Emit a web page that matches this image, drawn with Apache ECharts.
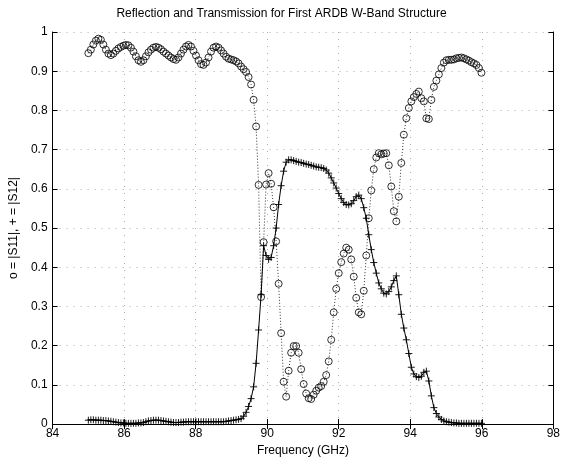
<!DOCTYPE html>
<html>
<head>
<meta charset="utf-8">
<script src="https://cdn.jsdelivr.net/npm/echarts@6/dist/echarts.min.js"></script>
<style>
	html, body { margin: 0; padding: 0; background: #fff; }
	#chart { width: 563px; height: 462px; }
</style>
</head>
<body>
<div id="chart"></div>
<script>
// frequency sweep, GHz
var freq = [
	85.00, 85.07, 85.14, 85.21, 85.28, 85.35, 85.42, 85.49, 85.56, 85.63,
	85.70, 85.77, 85.84, 85.91, 85.98, 86.05, 86.12, 86.19, 86.26, 86.33,
	86.40, 86.47, 86.54, 86.61, 86.68, 86.75, 86.82, 86.89, 86.96, 87.03,
	87.10, 87.17, 87.24, 87.31, 87.38, 87.45, 87.52, 87.59, 87.66, 87.73,
	87.80, 87.87, 87.94, 88.01, 88.08, 88.15, 88.22, 88.29, 88.36, 88.43,
	88.50, 88.57, 88.64, 88.71, 88.78, 88.85, 88.92, 88.99, 89.06, 89.13,
	89.20, 89.27, 89.34, 89.41, 89.48, 89.55, 89.62, 89.69, 89.76, 89.83,
	89.90, 89.97, 90.04, 90.11, 90.18, 90.25, 90.32, 90.39, 90.46, 90.53,
	90.60, 90.67, 90.74, 90.81, 90.88, 90.95, 91.02, 91.09, 91.16, 91.23,
	91.30, 91.37, 91.44, 91.51, 91.58, 91.65, 91.72, 91.79, 91.86, 91.93,
	92.00, 92.07, 92.14, 92.21, 92.28, 92.35, 92.42, 92.49, 92.56, 92.63,
	92.70, 92.77, 92.84, 92.91, 92.98, 93.05, 93.12, 93.19, 93.26, 93.33,
	93.40, 93.47, 93.54, 93.61, 93.68, 93.75, 93.82, 93.89, 93.96, 94.03,
	94.10, 94.17, 94.24, 94.31, 94.38, 94.45, 94.52, 94.59, 94.66, 94.73,
	94.80, 94.87, 94.94, 95.01, 95.08, 95.15, 95.22, 95.29, 95.36, 95.43,
	95.50, 95.57, 95.64, 95.71, 95.78, 95.85, 95.92, 95.99
];

// |S11|  (o)
var s11 = [
	0.946, 0.955, 0.968, 0.978, 0.983, 0.980, 0.968, 0.955, 0.945, 0.941,
	0.945, 0.952, 0.958, 0.962, 0.965, 0.967, 0.966, 0.960, 0.950, 0.938,
	0.928, 0.924, 0.928, 0.938, 0.948, 0.955, 0.960, 0.962, 0.960, 0.956,
	0.950, 0.945, 0.940, 0.935, 0.931, 0.929, 0.935, 0.945, 0.955, 0.963,
	0.967, 0.963, 0.952, 0.940, 0.928, 0.918, 0.916, 0.922, 0.935, 0.950,
	0.960, 0.963, 0.960, 0.953, 0.945, 0.937, 0.932, 0.930, 0.928, 0.925,
	0.920, 0.912, 0.905, 0.898, 0.885, 0.866, 0.827, 0.759, 0.610, 0.324,
	0.464, 0.611, 0.640, 0.613, 0.553, 0.466, 0.358, 0.232, 0.108, 0.070,
	0.136, 0.182, 0.199, 0.199, 0.182, 0.140, 0.102, 0.078, 0.066, 0.064,
	0.075, 0.085, 0.093, 0.097, 0.108, 0.125, 0.160, 0.215, 0.285, 0.345,
	0.385, 0.413, 0.435, 0.450, 0.445, 0.420, 0.376, 0.322, 0.285, 0.280,
	0.340, 0.430, 0.525, 0.596, 0.650, 0.680, 0.691, 0.688, 0.690, 0.691,
	0.660, 0.606, 0.543, 0.517, 0.580, 0.666, 0.738, 0.780, 0.806, 0.823,
	0.834, 0.842, 0.848, 0.831, 0.823, 0.780, 0.778, 0.827, 0.860, 0.876,
	0.892, 0.908, 0.922, 0.928, 0.929, 0.929, 0.930, 0.933, 0.934, 0.935,
	0.933, 0.930, 0.927, 0.923, 0.920, 0.916, 0.908, 0.896
];

// |S12|  (+)
var s12 = [
	0.010, 0.011, 0.011, 0.010, 0.010, 0.010, 0.009, 0.009, 0.008, 0.007,
	0.006, 0.005, 0.004, 0.003, 0.003, 0.002, 0.002, 0.002, 0.002, 0.002,
	0.003, 0.003, 0.004, 0.006, 0.008, 0.009, 0.010, 0.010, 0.010, 0.009,
	0.008, 0.007, 0.006, 0.005, 0.004, 0.004, 0.004, 0.005, 0.005, 0.006,
	0.006, 0.006, 0.006, 0.006, 0.006, 0.006, 0.006, 0.006, 0.006, 0.006,
	0.006, 0.006, 0.006, 0.006, 0.006, 0.007, 0.008, 0.009, 0.010, 0.011,
	0.012, 0.014, 0.020, 0.030, 0.045, 0.065, 0.095, 0.155, 0.240, 0.330,
	0.455, 0.430, 0.420, 0.425, 0.455, 0.500, 0.560, 0.608, 0.645, 0.668,
	0.674, 0.674, 0.672, 0.670, 0.668, 0.667, 0.665, 0.663, 0.662, 0.660,
	0.658, 0.656, 0.655, 0.654, 0.652, 0.648, 0.640, 0.628, 0.615, 0.602,
	0.588, 0.575, 0.565, 0.560, 0.559, 0.562, 0.570, 0.580, 0.584, 0.575,
	0.552, 0.525, 0.483, 0.445, 0.412, 0.385, 0.360, 0.345, 0.334, 0.332,
	0.338, 0.350, 0.366, 0.378, 0.330, 0.280, 0.245, 0.215, 0.180, 0.145,
	0.128, 0.121, 0.119, 0.122, 0.132, 0.135, 0.110, 0.072, 0.042, 0.027,
	0.018, 0.012, 0.008, 0.006, 0.005, 0.004, 0.003, 0.003, 0.002, 0.002,
	0.002, 0.002, 0.002, 0.002, 0.002, 0.002, 0.002, 0.002
];

var xTicks = [84, 86, 88, 90, 92, 94, 96, 98];
var yTicks = [0, 0.1, 0.2, 0.3, 0.4, 0.5, 0.6, 0.7, 0.8, 0.9, 1];

function pairs(xs, ys){
	var arr = [];
	for(var i=0; i<xs.length; i++){
		arr.push([xs[i], ys[i]]);
	}
	return arr;
}

var font = 'Liberation Sans, Arial, sans-serif';
// sparse dotted grid, as in the scanned MATLAB figure
var gridLine = { show: true, lineStyle: { color: '#aaa', type: [1, 6], width: 1 } };

var chart = echarts.init(document.getElementById('chart'));

var option = {
	animation: false,
	backgroundColor: '#fff',
	title: {
		text: 'Reflection and Transmission for First ARDB W-Band Structure',
		left: 'center',
		top: 3,
		textStyle: { fontFamily: font, fontSize: 12, fontWeight: 'normal', color: '#000' }
	},
	grid: { left: 47, right: 5, top: 32, bottom: 37 },
	xAxis: [
		{
			type: 'value',
			min: xTicks[0],
			max: xTicks[xTicks.length-1],
			interval: 2,
			name: 'Frequency (GHz)',
			nameLocation: 'middle',
			nameGap: 20,
			nameTextStyle: { fontFamily: font, fontSize: 12, color: '#000' },
			axisLine: { lineStyle: { color: '#000', width: 1 } },
			axisTick: { inside: true, length: 5, lineStyle: { color: '#000' } },
			axisLabel: { fontFamily: font, fontSize: 12, color: '#000', margin: 4 },
			splitLine: gridLine
		},
		{
			type: 'value',
			position: 'top',
			min: xTicks[0],
			max: xTicks[xTicks.length-1],
			interval: 2,
			axisLine: { lineStyle: { color: '#000', width: 1 } },
			axisTick: { inside: true, length: 5, lineStyle: { color: '#000' } },
			axisLabel: { show: false },
			splitLine: { show: false }
		}
	],
	yAxis: [
		{
			type: 'value',
			min: yTicks[0],
			max: yTicks[yTicks.length-1],
			interval: 0.1,
			name: 'o = |S11|, + = |S12|',
			nameLocation: 'middle',
			nameGap: 29,
			nameTextStyle: { fontFamily: font, fontSize: 12, color: '#000' },
			axisLine: { show: true, lineStyle: { color: '#000', width: 1 } },
			axisTick: { show: true, inside: true, length: 5, lineStyle: { color: '#000' } },
			axisLabel: { fontFamily: font, fontSize: 12, color: '#000', margin: 5 },
			splitLine: gridLine
		},
		{
			type: 'value',
			position: 'right',
			min: yTicks[0],
			max: yTicks[yTicks.length-1],
			interval: 0.1,
			axisLine: { show: true, lineStyle: { color: '#000', width: 1 } },
			axisTick: { show: true, inside: true, length: 5, lineStyle: { color: '#000' } },
			axisLabel: { show: false },
			splitLine: { show: false }
		}
	],
	series: [
		{
			name: '|S11|',
			type: 'line',
			data: pairs(freq, s11),
			symbol: 'circle',
			symbolSize: 7,
			showAllSymbol: true,
			lineStyle: { color: '#000', width: 0.8, type: [1, 2] },
			itemStyle: { color: 'none', borderColor: '#000', borderWidth: 0.8 }
		},
		{
			name: '|S12|',
			type: 'line',
			data: pairs(freq, s12),
			symbol: 'path://M5,0L5,10M0,5L10,5',
			symbolSize: 7,
			showAllSymbol: true,
			lineStyle: { color: '#000', width: 1 },
			itemStyle: { color: 'none', borderColor: '#000', borderWidth: 0.9 }
		}
	]
};

chart.setOption(option);
</script>
</body>
</html>
